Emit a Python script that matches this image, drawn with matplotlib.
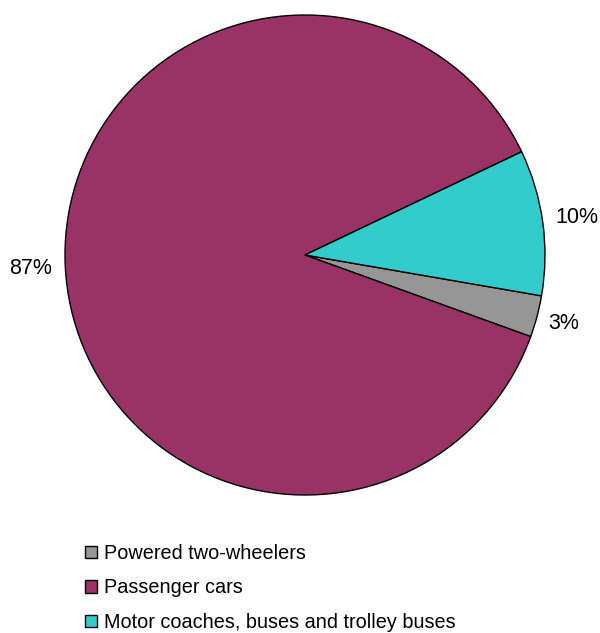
import numpy as np
import matplotlib.pyplot as plt
from matplotlib.patches import Patch

plt.rcParams["font.family"] = ["Liberation Sans", "DejaVu Sans"]

categories = ["Powered two-wheelers", "Passenger cars", "Motor coaches, buses and trolley buses"]
shares = [2.8, 87.4, 9.8]
colors = ["#969696", "#993366", "#33CCCC"]

fig = plt.figure(figsize=(6, 6.33), dpi=100)
# pie centre ~ (305, 255) px, radius ~ 240 px
ax = fig.add_axes([65 / 600, 1 - 495 / 633, 480 / 600, 480 / 633])

wedges, texts, autotexts = ax.pie(
    shares, colors=colors, startangle=-9.8, counterclock=False,
    autopct="%1.0f%%", pctdistance=1.145,
    wedgeprops=dict(edgecolor="black", linewidth=1.0),
    textprops=dict(fontsize=15.5, color="black"),
)
# small slice label sits a bit closer to the rim
w = wedges[0]
mid = np.deg2rad((w.theta1 + w.theta2) / 2)
autotexts[0].set_position((1.115 * np.cos(mid), 1.115 * np.sin(mid)))

ax.set_xlim(-1, 1)
ax.set_ylim(-1, 1)
ax.set_aspect("auto")

handles = [Patch(facecolor=c, edgecolor="black", linewidth=1.0) for c in colors]
fig.legend(handles, categories, loc="upper left",
           bbox_to_anchor=(85 / 600, 1 - 544 / 633), frameon=False,
           fontsize=14.3, handlelength=0.6, handleheight=0.6,
           handletextpad=0.35, labelspacing=0.78, borderpad=0, borderaxespad=0)

fig.savefig("out.png", dpi=100)
